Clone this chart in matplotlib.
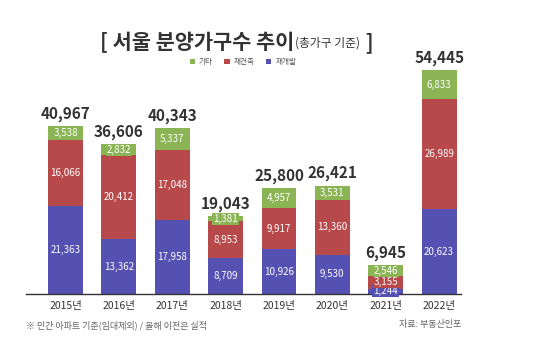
import numpy as np
import matplotlib
matplotlib.use("Agg")
import matplotlib.pyplot as plt

plt.rcParams['font.family'] = ['Noto Sans CJK KR', 'DejaVu Sans']

# 데이터 (가구수)
years = ['2015년', '2016년', '2017년', '2018년', '2019년', '2020년', '2021년', '2022년']
redev = [21363, 13362, 17958, 8709, 10926, 9530, 1244, 20623]      # 재개발
recon = [16066, 20412, 17048, 8953, 9917, 13360, 3155, 26989]      # 재건축
etc = [3538, 2832, 5337, 1381, 4957, 3531, 2546, 6833]             # 기타
totals = [40967, 36606, 40343, 19043, 25800, 26421, 6945, 54445]

c_blue = '#5451b3'
c_red = '#b8494b'
c_green = '#8bb555'

fig = plt.figure(figsize=(5.43, 3.63), dpi=100)
W, H = 543, 363
ax = fig.add_axes([26 / W, 69 / H, (461 - 26) / W, 234 / H])

x = np.arange(len(years))
redev = np.array(redev)
recon = np.array(recon)
etc = np.array(etc)

b1 = ax.bar(x, redev, width=0.655, color=c_blue, label='재개발')
b2 = ax.bar(x, recon, width=0.655, bottom=redev, color=c_red, label='재건축')
b3 = ax.bar(x, etc, width=0.655, bottom=redev + recon, color=c_green, label='기타')

ax.set_xlim(-0.74, 7.41)
ax.set_ylim(0, 57000)

# 구간 값 라벨
for vals, bottoms, col in [(redev, np.zeros(len(x)), c_blue),
                           (recon, redev, c_red),
                           (etc, redev + recon, c_green)]:
    for i in range(len(x)):
        ax.text(x[i], bottoms[i] + vals[i] / 2, f'{vals[i]:,}', ha='center', va='center',
                color='white', fontsize=7,
                bbox=dict(boxstyle='square,pad=0.1', fc=col, ec='none'))

# 합계
for i in range(len(x)):
    ax.annotate(f'{totals[i]:,}', (x[i], totals[i]), xytext=(0, 3), textcoords='offset points',
                ha='center', va='bottom', fontsize=11, fontweight='bold', color='#333333')

for s in ['top', 'left', 'right']:
    ax.spines[s].set_visible(False)
ax.spines['bottom'].set_color('#333333')
ax.spines['bottom'].set_linewidth(1)
ax.set_yticks([])
ax.set_xticks(x)
ax.set_xticklabels(years, fontsize=7.5, color='#333333')
ax.tick_params(axis='x', length=0, pad=5)

# 범례
leg = fig.legend(handles=[b3, b2, b1], labels=['기타', '재건축', '재개발'], ncol=3,
                 loc='center', bbox_to_anchor=(243 / W, 1 - 62 / H), frameon=False,
                 fontsize=5.5, handlelength=0.7, handleheight=0.7, columnspacing=1.5,
                 handletextpad=0.5)
for t in leg.get_texts():
    t.set_color('#555555')

# 제목
renderer = fig.canvas.get_renderer()
tx = 100 / W
ty = 1 - 43 / H
parts = [('[ 서울 분양가구수 추이', 15, 'black'), ('(총가구 기준)', 8.5, 'normal'), (' ]', 15, 'black')]
for s, fs, fw in parts:
    t = fig.text(tx, ty, s, fontsize=fs, fontweight=fw, color='#333333', ha='left', va='center')
    bb = t.get_window_extent(renderer=renderer)
    tx = bb.x1 / W + 1 / W

# 주석
fig.text(26 / W, 1 - 325 / H, '※ 민간 아파트 기준(임대제외) / 올해 이전은 실적', fontsize=6.5,
         color='#666666', ha='left', va='center')
fig.text(461 / W, 1 - 325 / H, '자료: 부동산인포', fontsize=6.5, color='#666666',
         ha='right', va='center')

fig.savefig('out.png', dpi=100)
